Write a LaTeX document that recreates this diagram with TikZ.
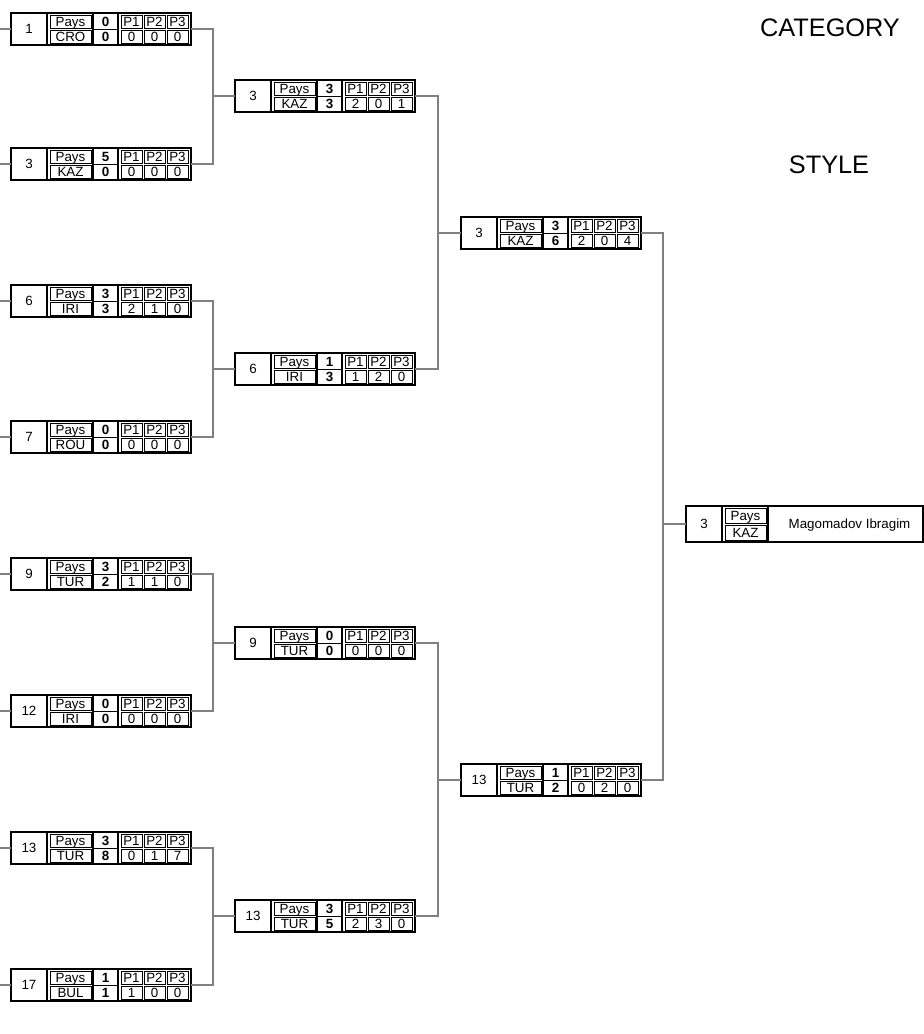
\documentclass[tikz,border=0pt]{standalone}
\usepackage{fontspec}
\setmainfont{Liberation Sans}
\usepackage{tikz}
\usetikzlibrary{calc}

% one bout: name, top-left corner, seed, nation, total, score, p1, p2, p3
\newcommand{\matchbox}[9]{%
  \begin{scope}[shift={(#2)}]
    \node[boxframe] (#1) at (90,16) {};
    \draw[heavy] (36,0) -- (36,32) (82,0) -- (82,32) (107,0) -- (107,32);
    \draw[cell] (82,16) -- (107,16);
    \foreach \xa/\xb in {39/80,110/131,133/154,156/177}
      \draw[cell] (\xa,2) rectangle (\xb,15) (\xa,17) rectangle (\xb,30);
    \node[txt] (#1-seed) at (18,20.5) {#3};
    \node[txt] (#1-pays) at (59.5,13) {Pays};
    \node[txt] (#1-nat) at (59.5,28) {#4};
    \node[txt, font=\fontsize{9.5}{10}\selectfont\bfseries] (#1-tot) at (94.5,13) {#5};
    \node[txt, font=\fontsize{9.5}{10}\selectfont\bfseries] (#1-sc) at (94.5,28) {#6};
    \node[txt] (#1-h1) at (120.5,13) {P1};
    \node[txt] (#1-h2) at (143.5,13) {P2};
    \node[txt] (#1-h3) at (166.5,13) {P3};
    \node[txt] (#1-p1) at (120.5,28) {#7};
    \node[txt] (#1-p2) at (143.5,28) {#8};
    \node[txt] (#1-p3) at (166.5,28) {#9};
  \end{scope}}

\begin{document}
\begin{tikzpicture}[x=0.025cm, y=-0.025cm,
    boxframe/.style={draw, line width=1.5pt, minimum width=4.5cm, minimum height=0.8cm, inner sep=0pt, outer sep=0pt},
    heavy/.style={line width=1.5pt},
    cell/.style={line width=0.7pt},
    link/.style={line width=0.8pt, black!50},
    txt/.style={anchor=base, inner sep=0pt, font=\fontsize{9.5}{10}\selectfont},
    title/.style={font=\fontsize{18}{20}\selectfont}]
    \useasboundingbox (0,0) rectangle (924,1034);

    % first round
    \matchbox{r1a}{11,13}{1}{CRO}{0}{0}{0}{0}{0}
    \matchbox{r1b}{11,148}{3}{KAZ}{5}{0}{0}{0}{0}
    \matchbox{r1c}{11,285}{6}{IRI}{3}{3}{2}{1}{0}
    \matchbox{r1d}{11,421}{7}{ROU}{0}{0}{0}{0}{0}
    \matchbox{r1e}{11,558}{9}{TUR}{3}{2}{1}{1}{0}
    \matchbox{r1f}{11,695}{12}{IRI}{0}{0}{0}{0}{0}
    \matchbox{r1g}{11,832}{13}{TUR}{3}{8}{0}{1}{7}
    \matchbox{r1h}{11,969}{17}{BUL}{1}{1}{1}{0}{0}

    % second round
    \matchbox{r2a}{235,80}{3}{KAZ}{3}{3}{2}{0}{1}
    \matchbox{r2b}{235,353}{6}{IRI}{1}{3}{1}{2}{0}
    \matchbox{r2c}{235,627}{9}{TUR}{0}{0}{0}{0}{0}
    \matchbox{r2d}{235,900}{13}{TUR}{3}{5}{2}{3}{0}

    % semi-finals
    \matchbox{r3a}{461,217}{3}{KAZ}{3}{6}{2}{0}{4}
    \matchbox{r3b}{461,764}{13}{TUR}{1}{2}{0}{2}{0}

    % winner
    \node[boxframe, minimum width=5.925cm, minimum height=0.9cm] (fin) at (804.5,524) {};
    \draw[heavy] (722,506) -- (722,542) (768,506) -- (768,542);
    \draw[cell] (725,508) rectangle (766,523) (725,525) rectangle (766,540);
    \node[txt] (fin-seed) at (704,528.5) {3};
    \node[txt] (fin-pays) at (745.5,520) {Pays};
    \node[txt] (fin-nat) at (745.5,537) {KAZ};
    \node[txt] (fin-name) at (849.5,528.5) {Magomadov Ibragim};

    % junctions
    \coordinate (j1) at (213,96);
    \coordinate (j2) at (213,369);
    \coordinate (j3) at (213,643);
    \coordinate (j4) at (213,916);
    \coordinate (j5) at (438,233);
    \coordinate (j6) at (438,780);
    \coordinate (j7) at (663,524);

    \foreach \b in {r1a,r1b,r1c,r1d,r1e,r1f,r1g,r1h}
      \draw[link] (\b.west) -- ++(-11,0);
    \foreach \a/\j/\b/\w in {r1a/j1/r1b/r2a, r1c/j2/r1d/r2b, r1e/j3/r1f/r2c, r1g/j4/r1h/r2d,
                            r2a/j5/r2b/r3a, r2c/j6/r2d/r3b, r3a/j7/r3b/fin} {
      \draw[link] (\a.east) -| (\j) |- (\b.east);
      \draw[link] (\j) -- (\w.west);
    }

    \node[title] (cat) at (830,28) {CATEGORY};
    \node[title] (sty) at (829,165) {STYLE};
\end{tikzpicture}
\end{document}
